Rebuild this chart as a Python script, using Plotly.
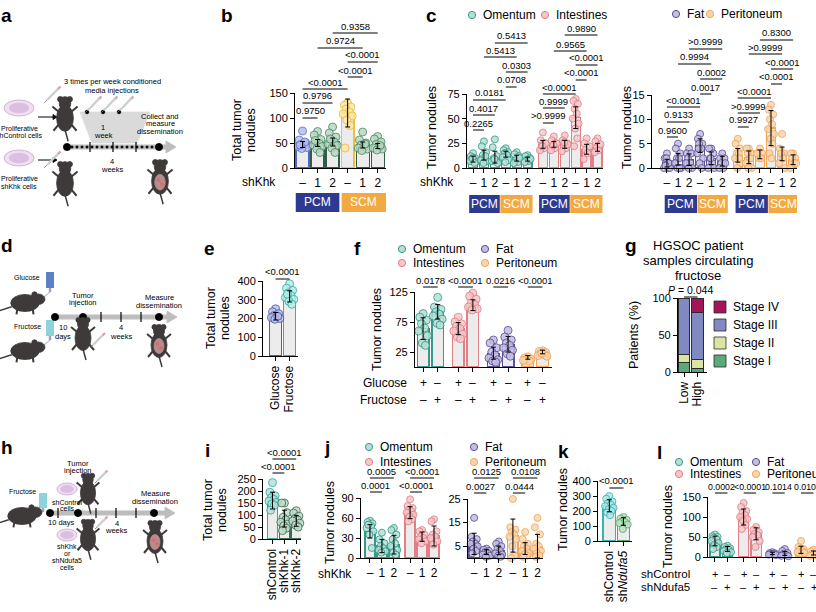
import plotly.graph_objects as go

W, H = 816, 612
FONT = "Liberation Sans, Arial, sans-serif"

# ---------------- data ----------------
shkhk_ticks = ["–", "1", "2", "–", "1", "2"]

# b  total tumor nodules: PCM (ctrl, shKhk-1, shKhk-2), SCM (ctrl, shKhk-1, shKhk-2)
b_x = [0, 1, 2, 3, 4, 5]
b_mean = [47, 50, 52, 110, 46, 44]
b_err = [6, 7, 8, 28, 6, 5]
b_pts = [
    [74, 56, 50, 47, 45, 43, 41, 39, 52, 46],
    [73, 66, 57, 52, 49, 46, 43, 38, 31, 55],
    [82, 70, 62, 56, 52, 48, 45, 40, 31, 58],
    [130, 126, 122, 118, 112, 108, 104, 96, 85, 40],
    [72, 56, 50, 46, 43, 40, 38, 35, 48],
    [63, 58, 52, 47, 43, 40, 38, 36, 45],
]

# c  tumor nodules by site, same six groups for each site
c_x = [0, 1, 2, 3, 4, 5, 6.4, 7.4, 8.4, 9.4, 10.4, 11.4]
c_om_mean = [9, 13, 11, 14, 10, 9]
c_om_err = [3, 5, 6, 3, 3, 2]
c_om_pts = [
    [15, 12, 10, 9, 8, 7, 6, 10, 5],
    [27, 22, 16, 13, 10, 8, 7, 5, 12],
    [29, 21, 12, 10, 8, 7, 5, 9],
    [20, 18, 16, 15, 13, 11, 8, 6],
    [16, 14, 12, 8, 6, 5, 10],
    [13, 12, 10, 8, 7, 6, 9],
]
c_in_mean = [24, 24, 24, 51, 19, 21]
c_in_err = [4, 3, 4, 11, 5, 4]
c_in_pts = [
    [36, 28, 25, 23, 20, 18, 25, 22],
    [32, 28, 25, 22, 20, 18, 25, 23],
    [33, 28, 25, 22, 20, 17, 24, 26],
    [70, 68, 65, 60, 55, 50, 45, 40, 30, 22],
    [30, 25, 20, 18, 15, 9, 22],
    [30, 27, 22, 20, 18, 16, 24],
]
c_fat_mean = [1.0, 1.8, 1.7, 4.6, 2.0, 1.4]
c_fat_err = [0.8, 1.2, 1.2, 1.4, 1.3, 1.0]
c_fat_pts = [
    [3, 2, 1, 1, 0, 0, 0, 2, 1, 0.5],
    [5, 4, 3, 2, 2, 1, 0, 0, 0],
    [4, 3, 3, 2, 1, 1, 0, 0],
    [7, 6, 5, 5, 4, 3, 2, 1, 0, 4],
    [4, 4, 3, 2, 1, 0, 0, 2],
    [3, 2, 2, 1, 0, 0, 1],
]
c_peri_mean = [2.6, 2.2, 2.8, 8.2, 2.9, 1.7]
c_peri_err = [1.4, 1.3, 0.9, 3.6, 1.4, 1.0]
c_peri_pts = [
    [6, 5, 4, 3, 3, 2, 1, 0, 2],
    [4, 4, 3, 3, 2, 1, 0, 0, 2],
    [4, 3, 3, 2, 2, 3],
    [13, 12, 11, 10, 9, 8, 7, 6, 5, 3, 2],
    [7, 4, 3, 3, 2, 1, 0],
    [3, 3, 2, 2, 1, 0, 1],
]

# e  glucose vs fructose
e_x = [0, 1]
e_labels = ["Glucose", "Fructose"]
e_mean = [212, 318]
e_err = [20, 30]
e_pts = [
    [252, 236, 226, 216, 210, 205, 200, 196, 212],
    [385, 362, 350, 336, 322, 312, 302, 292, 276, 330],
]

# f  site x (glucose, fructose)
f_x = [0, 1, 2.4, 3.4, 4.8, 5.8, 7.15, 8.15]
f_glucose = ["+", "–", "+", "–", "+", "–", "+", "–"]
f_fructose = ["–", "+", "–", "+", "–", "+", "–", "+"]
f_mean = [64, 92, 64, 103, 23, 38, 16, 25]
f_err = [18, 12, 10, 9, 10, 13, 3, 3]
f_pts = [
    [89, 83, 78, 72, 65, 60, 52, 40, 36],
    [116, 100, 96, 92, 88, 85, 80, 73, 70],
    [83, 75, 72, 68, 64, 60, 55, 50, 47],
    [123, 118, 113, 107, 104, 100, 97, 95],
    [45, 40, 32, 25, 20, 15, 12, 10, 8],
    [61, 50, 45, 40, 36, 32, 28, 22, 18],
    [17, 15, 13, 12, 10, 11],
    [27, 26, 24, 22, 21, 19, 18, 23],
]

# g  patients (%) by stage, low / high circulating fructose
g_x = [0, 1]
g_labels = ["Low", "High"]
g_stage1 = [13, 5]
g_stage2 = [11, 12]
g_stage3 = [76, 64]
g_stage4 = [0, 19]

# i  shControl / shKhk-1 / shKhk-2
i_x = [0, 1, 2]
i_labels = ["shControl", "shKhk-1", "shKhk-2"]
i_mean = [160, 85, 75]
i_err = [35, 35, 22]
i_pts = [
    [235, 195, 180, 172, 165, 158, 152, 146, 140, 120],
    [150, 150, 110, 90, 80, 70, 62, 55, 45, 35],
    [118, 108, 95, 86, 80, 75, 66, 58, 50],
]

# j  per site, shKhk
j_x = [0, 1, 2, 3.35, 4.35, 5.35]
j_om_in_mean = [40, 18, 20, 68, 32, 33]
j_om_in_err = [10, 10, 14, 9, 7, 15]
j_om_in_pts = [
    [56, 54, 52, 50, 48, 45, 40, 35, 15, 50],
    [38, 28, 22, 18, 15, 12, 10, 8],
    [45, 42, 35, 28, 22, 18, 12, 8, 5],
    [88, 78, 75, 72, 70, 68, 65, 62, 58, 55],
    [42, 40, 35, 32, 30, 28, 25, 22],
    [58, 55, 40, 35, 32, 30, 25, 20],
]
j2_x = [0, 1, 2, 3.15, 4.15, 5.15]
j_fat_peri_mean = [6, 2.5, 3.2, 9.5, 4, 5]
j_fat_peri_err = [4.5, 1, 1.8, 7, 2.5, 5]
j_fat_peri_pts = [
    [17, 9, 8, 7, 6, 6, 5, 4, 3, 2],
    [4, 3.5, 3, 2.5, 2, 1.5, 1, 0.5],
    [7, 6, 5, 4, 3, 2, 1.5, 1, 0.5],
    [25, 13, 12, 11, 10, 9, 8, 5, 1, 0],
    [11, 8, 6, 5, 4, 3, 2, 1.5, 1, 0.5],
    [17, 13, 10, 6, 5, 4, 3, 2, 1, 0.5],
]

# k  shControl vs shNdufa5
k_x = [0, 1]
k_labels = ["shControl", "sh<i>Ndufa5</i>"]
k_mean = [235, 130]
k_err = [40, 25]
k_pts = [
    [300, 282, 264, 252, 242, 232, 222, 212, 200, 190, 172],
    [160, 150, 142, 132, 126, 120, 110, 80],
]

# l  per site, shControl vs shNdufa5
l_x = [0, 1, 2.3, 3.3, 4.6, 5.6, 6.9, 7.9]
l_ctrl = ["+", "–", "+", "–", "+", "–", "+", "–"]
l_nd = ["–", "+", "–", "+", "–", "+", "–", "+"]
l_mean = [40, 20, 100, 58, 9, 9, 18, 10]
l_err = [12, 6, 20, 15, 3, 5, 9, 5]
l_pts = [
    [56, 52, 50, 48, 45, 40, 35, 30, 25, 20],
    [28, 25, 22, 20, 18, 15, 12, 10],
    [135, 125, 115, 110, 105, 100, 95, 90, 80, 70],
    [75, 68, 62, 58, 55, 50, 40, 25],
    [12, 10, 9, 8, 7, 6, 5],
    [20, 15, 10, 8, 5, 3, 2],
    [40, 25, 20, 18, 15, 12, 10],
    [18, 14, 10, 8, 5, 3],
]

# ---------------- colours ----------------
BARFILL = "#ececec"
PCM = "#2e3a8f"
SCM = "#f2a941"
OM = ("#35998a", "#b4e0d5")
IN = ("#e27f86", "#f6c6c9")
FAT = ("#5a5094", "#c2bde2")
PERI = ("#f2a457", "#f9d6b0")
OFF = [0, -0.22, 0.22, -0.11, 0.11, -0.3, 0.3, -0.05, 0.16, -0.16, 0.05, 0.27]

fig = go.Figure()
shp = []
ann = []


def px(x):
    return x / W


def py(y):
    return 1 - y / H


def sfx(n):
    return "" if n == 1 else str(n)


def text(x, y, s, size=10, anchor="center", color="black", angle=0, bold=False, ya="middle"):
    if bold:
        s = "<b>" + s + "</b>"
    ann.append(dict(x=px(x), y=py(y), xref="paper", yref="paper", text=s, showarrow=False,
                    font=dict(size=size, color=color, family=FONT), xanchor=anchor, yanchor=ya,
                    textangle=angle))


def add_axes(n, box, xr, yr, yt, xt=None, xl=None, xangle=0, showxl=True):
    x0, x1, yt0, yb = box
    base = dict(showline=True, linecolor="black", linewidth=1.1, ticks="outside", ticklen=4,
                tickwidth=1.1, tickcolor="black", showgrid=False, zeroline=False, fixedrange=True,
                automargin=False, tickfont=dict(size=11, family=FONT, color="black"))
    fig.layout["xaxis" + sfx(n)] = dict(base, domain=[px(x0), px(x1)], range=xr, anchor="y" + sfx(n),
                                       tickvals=xt, ticktext=xl, showticklabels=showxl,
                                       tickangle=xangle, tickfont=dict(size=12, family=FONT, color="black"))
    fig.layout["yaxis" + sfx(n)] = dict(base, domain=[py(yb), py(yt0)], range=yr, anchor="x" + sfx(n),
                                       tickvals=yt)


def bars(n, xs, means, edges, width):
    fig.add_trace(go.Bar(x=xs, y=means, width=width, xaxis="x" + sfx(n), yaxis="y" + sfx(n),
                         marker=dict(color=BARFILL, line=dict(color=edges, width=1.3)),
                         showlegend=False, hoverinfo="skip"))


def dots(n, xs, pts_list, edges, fills, size=7, spread=1.0):
    for x, pts, e, f in zip(xs, pts_list, edges, fills):
        xx = [x + OFF[k % len(OFF)] * spread for k in range(len(pts))]
        fig.add_trace(go.Scatter(x=xx, y=pts, mode="markers", xaxis="x" + sfx(n), yaxis="y" + sfx(n),
                                 marker=dict(size=size, color=f, opacity=0.85, line=dict(color=e, width=1)),
                                 cliponaxis=False, showlegend=False, hoverinfo="skip"))


def errs(n, xs, means, err):
    fig.add_trace(go.Scatter(x=xs, y=means, mode="markers", xaxis="x" + sfx(n), yaxis="y" + sfx(n),
                             marker=dict(size=1, color="rgba(0,0,0,0)"),
                             error_y=dict(type="data", array=err, color="black", thickness=1, width=2.5),
                             cliponaxis=False, showlegend=False, hoverinfo="skip"))


def bracket(n, a, b, ly, label, size=9.5):
    shp.append(dict(type="line", xref="x" + sfx(n), yref="paper", x0=a, x1=b, y0=py(ly), y1=py(ly),
                    line=dict(color="black", width=1)))
    ann.append(dict(x=(a + b) / 2, xref="x" + sfx(n), y=py(ly - 0.5), yref="paper", text=label,
                    showarrow=False, xanchor="center", yanchor="bottom", borderpad=0,
                    font=dict(size=size, family=FONT, color="black")))


def box(n, a, b, y0, y1, color, label):
    shp.append(dict(type="rect", xref="x" + sfx(n), yref="paper", x0=a, x1=b, y0=py(y1), y1=py(y0),
                    fillcolor=color, line=dict(width=0)))
    ann.append(dict(x=(a + b) / 2, xref="x" + sfx(n), y=py((y0 + y1) / 2), yref="paper", text=label,
                    showarrow=False, xanchor="center", yanchor="middle",
                    font=dict(size=12, family=FONT, color="white")))


def rowlab(n, xs, labels, y, size=12):
    for x, s in zip(xs, labels):
        ann.append(dict(x=x, xref="x" + sfx(n), y=py(y), yref="paper", text=s, showarrow=False,
                        xanchor="center", yanchor="middle",
                        font=dict(size=size, family=FONT, color="black")))


def ldot(cx, cy, col, r=3.6):
    shp.append(dict(type="circle", xref="paper", yref="paper", x0=px(cx - r), x1=px(cx + r),
                    y0=py(cy + r), y1=py(cy - r), fillcolor=col[1], line=dict(color=col[0], width=1)))


# schematic helpers
def ellipse(cx, cy, rx, ry, fill, line=None, lw=0.8):
    shp.append(dict(type="circle", xref="paper", yref="paper", x0=px(cx - rx), x1=px(cx + rx),
                    y0=py(cy + ry), y1=py(cy - ry), fillcolor=fill,
                    line=dict(color=line or fill, width=lw)))


def rect(x0, y0, x1, y1, fill, line=None, lw=0):
    shp.append(dict(type="rect", xref="paper", yref="paper", x0=px(x0), x1=px(x1), y0=py(y1),
                    y1=py(y0), fillcolor=fill, line=dict(color=line or fill, width=lw)))


def seg(x0, y0, x1, y1, color="black", w=1):
    shp.append(dict(type="line", xref="paper", yref="paper", x0=px(x0), x1=px(x1), y0=py(y0),
                    y1=py(y1), line=dict(color=color, width=w)))


def poly(pts, fill, line=None):
    d = "M " + " L ".join("%f,%f" % (px(x), py(y)) for x, y in pts) + " Z"
    shp.append(dict(type="path", xref="paper", yref="paper", path=d, fillcolor=fill,
                    line=dict(color=line or fill, width=0.8)))


MOUSE = "#3f3a3a"


def mouse_top(cx, cy, s=1.0, opened=False):
    seg(cx, cy + 14 * s, cx + 3 * s, cy + 25 * s, MOUSE, 1.5)
    for d in (-1, 1):
        seg(cx + d * 6 * s, cy - 3 * s, cx + d * 12 * s, cy - 8 * s, MOUSE, 2)
        seg(cx + d * 6 * s, cy + 9 * s, cx + d * 11 * s, cy + 15 * s, MOUSE, 2)
        ellipse(cx + d * 4.5 * s, cy - 15 * s, 2.6 * s, 2.6 * s, MOUSE)
    ellipse(cx, cy + 3 * s, 8 * s, 12.5 * s, MOUSE)
    ellipse(cx, cy - 11 * s, 5.5 * s, 6.5 * s, MOUSE)
    if opened:
        ellipse(cx, cy + 4 * s, 5 * s, 7.5 * s, "#b98c8c")
        ellipse(cx - 1.5 * s, cy + 2 * s, 1.6 * s, 1.6 * s, "#d66b78")
        ellipse(cx + 2 * s, cy + 6 * s, 1.6 * s, 1.6 * s, "#d66b78")


def mouse_side(cx, cy, s=1.0):
    seg(cx - 14 * s, cy + 4 * s, cx - 30 * s, cy + 9 * s, MOUSE, 1.5)
    seg(cx - 8 * s, cy + 6 * s, cx - 9 * s, cy + 12 * s, MOUSE, 2)
    seg(cx + 8 * s, cy + 6 * s, cx + 9 * s, cy + 12 * s, MOUSE, 2)
    ellipse(cx, cy, 15 * s, 9 * s, MOUSE)
    ellipse(cx + 14 * s, cy - 4 * s, 7 * s, 5.5 * s, MOUSE)
    ellipse(cx + 10 * s, cy - 9 * s, 2.8 * s, 2.8 * s, MOUSE)


def dish(cx, cy, rx=15, ry=8):
    ellipse(cx, cy, rx, ry, "#efdff0", "#c6a6cc", 0.8)
    ellipse(cx, cy, rx * 0.65, ry * 0.6, "#dbbfe0", "#dbbfe0")


def bottle(cx, y0, y1, color):
    rect(cx - 4, y0, cx + 4, y1, color)
    rect(cx - 1.2, y1, cx + 1.2, y1 + 4, "#9aa3b5")


def timeline(x0, x1, y):
    rect(x0, y - 2.4, x1, y + 2.4, "#bdbdbd")
    poly([(x1, y - 6), (x1 + 10, y), (x1, y + 6)], "#bdbdbd")


def syringe(x, y, s=1.0):
    seg(x, y, x + 12 * s, y - 12 * s, "#cfcfcf", 2.4)
    seg(x + 12 * s, y - 12 * s, x + 15 * s, y - 15 * s, "#d9a3b3", 2.4)
    seg(x - 3 * s, y + 3 * s, x, y, "#777777", 0.8)


# ---------------- axes ----------------
add_axes(1, (295, 386, 93, 168), [-0.5, 5.55], [0, 150], [0, 50, 100, 150], b_x, shkhk_ticks)
add_axes(2, (467, 603, 94, 168), [-0.55, 11.9], [0, 75], [0, 25, 50, 75], c_x, shkhk_ticks * 2)
add_axes(3, (652, 797, 95, 168), [-1.35, 11.75], [0, 15], [0, 5, 10, 15], c_x, shkhk_ticks * 2)
add_axes(4, (263, 298, 281, 356), [-0.9, 1.6], [0, 400], [0, 100, 200, 300, 400], e_x, e_labels, -90)
add_axes(5, (415, 552, 292, 367), [-0.55, 8.8], [0, 125], [25, 75, 125], f_x, None, 0, False)
add_axes(6, (678, 707, 298, 372), [-0.45, 1.7], [0, 100], [0, 50, 100], g_x, g_labels, -90)
add_axes(7, (263, 301, 479, 539), [-0.8, 2.4], [0, 250], [0, 50, 100, 150, 200, 250], i_x, i_labels, -90)
add_axes(8, (361, 440, 498, 558), [-0.75, 5.85], [0, 90], [0, 30, 60, 90], j_x, shkhk_ticks)
add_axes(9, (468, 543, 499, 558), [-0.5, 5.6], [0, 25], [5, 15, 25], j2_x, shkhk_ticks)
add_axes(10, (598, 632, 481, 541), [-0.8, 1.6], [0, 400], [0, 100, 200, 300, 400], k_x, k_labels, -90)
add_axes(11, (708, 816, 497, 557), [-0.56, 8.1], [0, 150], [0, 50, 100, 150], l_x, None, 0, False)

# ---------------- panel b ----------------
b_edge = ["#5566c0", "#2f5d48", "#2f5d48", "#f0c03a", "#2f5d48", "#2f5d48"]
b_pe = ["#6070c8", "#4e8a66", "#4e8a66", "#eebd3c", "#4e8a66", "#4e8a66"]
b_pf = ["#b5bfea", "#b8d8c2", "#b8d8c2", "#fce8ad", "#b8d8c2", "#b8d8c2"]
bars(1, b_x, b_mean, b_edge, 0.86)
dots(1, b_x, b_pts, b_pe, b_pf, size=8, spread=1.0)
errs(1, b_x, b_mean, b_err)
for a, b_, ly, lab in [(0, 1, 118, "0.9750"), (0, 2, 103, "0.9796"), (0, 3, 89, "&lt;0.0001"),
                       (3, 4, 77, "&lt;0.0001"), (3, 5, 62, "&lt;0.0001"), (1, 4, 48, "0.9724"),
                       (2, 5, 33, "0.9358")]:
    bracket(1, a, b_, ly, lab)
box(1, -0.45, 2.45, 193, 212, PCM, "PCM")
box(1, 2.6, 5.55, 193, 212, SCM, "SCM")
text(278, 182, "shKhk", 12, "right")
text(237, 130, "Total tumor", 12.5, angle=-90)
text(251, 130, "nodules", 12.5, angle=-90)

# ---------------- panel c ----------------
om_in_e = [OM[0]] * 6 + [IN[0]] * 6
om_in_f = [OM[1]] * 6 + [IN[1]] * 6
bars(2, c_x, c_om_mean + c_in_mean, om_in_e, 0.82)
dots(2, c_x, c_om_pts + c_in_pts, om_in_e, om_in_f, size=7, spread=0.9)
errs(2, c_x, c_om_mean + c_in_mean, c_om_err + c_in_err)
fp_e = [FAT[0]] * 6 + [PERI[0]] * 6
fp_f = [FAT[1]] * 6 + [PERI[1]] * 6
bars(3, c_x, c_fat_mean + c_peri_mean, fp_e, 0.82)
dots(3, c_x, c_fat_pts + c_peri_pts, fp_e, fp_f, size=7, spread=0.9)
errs(3, c_x, c_fat_mean + c_peri_mean, c_fat_err + c_peri_err)

for a, b_, ly, lab in [(0, 1, 130, "0.2265"), (0, 2, 115, "0.4017"), (0, 3, 100, "0.0181"),
                       (3, 4, 87, "0.0708"), (3, 5, 72, "0.0303"), (1, 4, 57, "0.5413"),
                       (2, 5, 43, "0.5413")]:
    bracket(2, c_x[a], c_x[b_], ly, lab)
for a, b_, ly, lab in [(0, 1, 123, "&gt;0.9999"), (0, 2, 108, "0.9999"), (0, 3, 94, "&lt;0.0001"),
                       (3, 4, 80, "&lt;0.0001"), (3, 5, 65, "&lt;0.0001"), (1, 4, 51, "0.9565"),
                       (2, 5, 35, "0.9890")]:
    bracket(2, c_x[a + 6], c_x[b_ + 6], ly, lab)
for a, b_, ly, lab in [(0, 1, 137, "0.9600"), (0, 2, 122, "0.9133"), (0, 3, 107, "&lt;0.0001"),
                       (3, 4, 94, "0.0017"), (3, 5, 79, "0.0002"), (1, 4, 64, "0.9994"),
                       (2, 5, 49, "&gt;0.9999")]:
    bracket(3, c_x[a], c_x[b_], ly, lab)
for a, b_, ly, lab in [(0, 1, 127, "0.9927"), (0, 2, 113, "&gt;0.9999"), (0, 3, 98, "&lt;0.0001"),
                       (3, 4, 84, "&lt;0.0001"), (3, 5, 69, "&lt;0.0001"), (1, 4, 54, "&gt;0.9999"),
                       (2, 5, 40, "0.8300")]:
    bracket(3, c_x[a + 6], c_x[b_ + 6], ly, lab)
for g0 in (0, 6.4):
    box(2, g0 - 0.35, g0 + 2.45, 195, 213, PCM, "PCM")
    box(2, g0 + 2.5, g0 + 5.45, 195, 213, SCM, "SCM")
    box(3, g0 - 0.2, g0 + 2.72, 195, 213, PCM, "PCM")
    box(3, g0 + 2.77, g0 + 5.5, 195, 213, SCM, "SCM")
text(456, 182, "shKhk", 12, "right")
text(432, 128, "Tumor nodules", 12.5, angle=-90)
text(627, 128, "Tumor nodules", 12.5, angle=-90)
ldot(472, 15, OM)
text(481, 15, "Omentum", 12, "left")
ldot(545, 15, IN)
text(554, 15, "Intestines", 12, "left")
ldot(676, 14, FAT)
text(685, 14, "Fat", 12, "left")
ldot(710, 14, PERI)
text(719, 14, "Peritoneum", 12, "left")

# ---------------- panel e ----------------
e_e = ["#4f5ca8", "#2fb3a8"]
e_f = ["#b9bfe6", "#bdeae4"]
bars(4, e_x, e_mean, e_e, 0.88)
dots(4, e_x, e_pts, e_e, e_f, size=8, spread=1.0)
errs(4, e_x, e_mean, e_err)
bracket(4, 0, 1, 279, "&lt;0.0001")
text(211, 318, "Total tumor", 12.5, angle=-90)
text(225, 318, "nodules", 12.5, angle=-90)

# ---------------- panel f ----------------
f_e = [OM[0], OM[0], IN[0], IN[0], FAT[0], FAT[0], PERI[0], PERI[0]]
f_f = [OM[1], OM[1], IN[1], IN[1], FAT[1], FAT[1], PERI[1], PERI[1]]
bars(5, f_x, f_mean, f_e, 0.8)
dots(5, f_x, f_pts, f_e, f_f, size=8, spread=1.0)
errs(5, f_x, f_mean, f_err)
for k, lab in enumerate(["0.0178", "&lt;0.0001", "0.0216", "&lt;0.0001"]):
    bracket(5, f_x[2 * k], f_x[2 * k + 1], 287, lab)
rowlab(5, f_x, f_glucose, 383)
rowlab(5, f_x, f_fructose, 400)
text(409, 383, "Glucose", 12, "right")
text(409, 400, "Fructose", 12, "right")
text(377, 330, "Tumor nodules", 12.5, angle=-90)
ldot(402, 249, OM)
text(411, 249, "Omentum", 12, "left")
ldot(485, 249, FAT)
text(494, 249, "Fat", 12, "left")
ldot(402, 263, IN)
text(411, 263, "Intestines", 12, "left")
ldot(485, 263, PERI)
text(494, 263, "Peritoneum", 12, "left")

# ---------------- panel g ----------------
stages = [("Stage I", g_stage1, "#5aa97a"), ("Stage II", g_stage2, "#dbe5a2"),
          ("Stage III", g_stage3, "#8189c2"), ("Stage IV", g_stage4, "#a3145b")]
for name, vals, col in stages:
    fig.add_trace(go.Bar(x=g_x, y=vals, width=0.86, xaxis="x6", yaxis="y6", name=name,
                         marker=dict(color=col, line=dict(color="#2b2b2b", width=1)),
                         showlegend=False, hoverinfo="skip"))
for k, (name, vals, col) in enumerate(reversed(stages)):
    yy = 307 + 18 * k
    rect(714, yy - 6, 726, yy + 6, col, "#2b2b2b", 0.8)
    text(731, yy, name, 12, "left")
bracket(6, 0, 1, 297, "<i>P</i> = 0.044", 10.5)
text(698, 245, "HGSOC patient", 13)
text(698, 260, "samples circulating", 13)
text(698, 275, "fructose", 13)
text(634, 335, "Patients (%)", 12.5, angle=-90)

# ---------------- panel i ----------------
i_e = ["#34a89c", "#3c6e55", "#3c6e55"]
i_f = ["#b3e2dc", "#c1dcc9", "#c1dcc9"]
bars(7, i_x, i_mean, i_e, 0.86)
dots(7, i_x, i_pts, i_e, i_f, size=8, spread=1.0)
errs(7, i_x, i_mean, i_err)
bracket(7, 0, 1, 473, "&lt;0.0001")
bracket(7, 0, 2, 459, "&lt;0.0001")
text(208, 510, "Total tumor", 12.5, angle=-90)
text(222, 510, "nodules", 12.5, angle=-90)

# ---------------- panel j ----------------
j_e = [OM[0]] * 3 + [IN[0]] * 3
j_f = [OM[1]] * 3 + [IN[1]] * 3
bars(8, j_x, j_om_in_mean, j_e, 0.84)
dots(8, j_x, j_om_in_pts, j_e, j_f, size=7, spread=0.95)
errs(8, j_x, j_om_in_mean, j_om_in_err)
j2_e = [FAT[0]] * 3 + [PERI[0]] * 3
j2_f = [FAT[1]] * 3 + [PERI[1]] * 3
bars(9, j2_x, j_fat_peri_mean, j2_e, 0.84)
dots(9, j2_x, j_fat_peri_pts, j2_e, j2_f, size=7, spread=0.95)
errs(9, j2_x, j_fat_peri_mean, j_fat_peri_err)
bracket(8, j_x[0], j_x[1], 492, "0.0001")
bracket(8, j_x[0], j_x[2], 478, "0.0005")
bracket(8, j_x[3], j_x[4], 492, "&lt;0.0001")
bracket(8, j_x[3], j_x[5], 478, "&lt;0.0001")
bracket(9, j2_x[0], j2_x[1], 493, "0.0027")
bracket(9, j2_x[0], j2_x[2], 478, "0.0125")
bracket(9, j2_x[3], j2_x[4], 493, "0.0444")
bracket(9, j2_x[3], j2_x[5], 478, "0.0108")
text(354, 574, "shKhk", 12, "right")
text(330, 523, "Tumor nodules", 12.5, angle=-90)
ldot(369, 447, OM)
text(378, 447, "Omentum", 12, "left")
ldot(369, 462, IN)
text(378, 462, "Intestines", 12, "left")
ldot(474, 447, FAT)
text(483, 447, "Fat", 12, "left")
ldot(474, 462, PERI)
text(483, 462, "Peritoneum", 12, "left")

# ---------------- panel k ----------------
k_e = ["#35b3b8", "#58a86a"]
k_f = ["#b4e7e7", "#c0e2c5"]
bars(10, k_x, k_mean, k_e, 0.88)
dots(10, k_x, k_pts, k_e, k_f, size=7, spread=1.0)
errs(10, k_x, k_mean, k_err)
bracket(10, 0, 1, 488, "&lt;0.0001")
text(563, 510, "Tumor nodules", 12.5, angle=-90)

# ---------------- panel l ----------------
l_e = [OM[0], OM[0], IN[0], IN[0], FAT[0], FAT[0], PERI[0], PERI[0]]
l_f = [OM[1], OM[1], IN[1], IN[1], FAT[1], FAT[1], PERI[1], PERI[1]]
bars(11, l_x, l_mean, l_e, 0.82)
dots(11, l_x, l_pts, l_e, l_f, size=7, spread=0.95)
errs(11, l_x, l_mean, l_err)
for k, lab in enumerate(["0.0002", "&lt;0.0001", "0.1014", "0.0108"]):
    bracket(11, l_x[2 * k], l_x[2 * k + 1], 493, lab, 8.8)
rowlab(11, l_x, l_ctrl, 574, 11)
rowlab(11, l_x, l_nd, 587, 11)
text(692, 574, "shControl", 11.5, "right")
text(692, 587, "shNdufa5", 11.5, "right")
text(668, 527, "Tumor nodules", 12.5, angle=-90)
ldot(679, 462, OM)
text(688, 462, "Omentum", 12, "left")
ldot(756, 462, FAT)
text(765, 462, "Fat", 12, "left")
ldot(679, 474, IN)
text(688, 474, "Intestines", 12, "left")
ldot(756, 474, PERI)
text(765, 474, "Peritoneum", 12, "left")

# ---------------- schematics a, d, h ----------------
# a
dish(19, 108)
dish(19, 158)
text(19, 128, "Proliferative", 7)
text(19, 135, "shControl cells", 7)
text(19, 178, "Proliferative", 7)
text(19, 186, "shKhk cells", 7)
seg(38, 117, 53, 117, "black", 1)
poly([(53, 114.5), (57, 117), (53, 119.5)], "black")
seg(38, 160, 53, 160, "black", 1)
poly([(53, 157.5), (57, 160), (53, 162.5)], "black")
syringe(47, 100, 0.9)
syringe(47, 165, 0.9)
mouse_top(65, 115, 1.05)
mouse_top(65, 180, 1.05)
poly([(80, 112), (150, 112), (137, 143), (92, 143)], "#dadada")
for xd in (87, 103, 119):
    ellipse(xd, 112, 1.8, 1.8, "black")
    syringe(xd + 1, 110, 0.9)
text(112, 82, "3 times per week conditioned", 7.5)
text(112, 90, "media injections", 7.5)
text(103, 127, "1", 7.5)
text(103, 135, "week", 7.5)
timeline(67, 166, 147)
for xd in range(72, 158, 5):
    ellipse(xd, 147, 1.1, 1.1, "black")
for xd in (90, 113, 136):
    seg(xd, 142, xd, 152, "black", 1.2)
ellipse(67, 147, 3.6, 3.6, "black")
ellipse(159, 147, 3.6, 3.6, "black")
text(112, 162, "4", 7.5)
text(112, 169, "weeks", 7.5)
text(160, 117, "Collect and", 7.5)
text(160, 124, "measure", 7.5)
text(160, 131, "dissemination", 7.5)
mouse_top(160, 178, 1.05, opened=True)

# d
text(27, 278, "Glucose", 7)
bottle(50, 272, 288, "#5b7fc0")
seg(50, 292, 44, 297, "#9aa3b5", 1)
mouse_side(25, 303, 0.95)
text(27, 326, "Fructose", 7)
bottle(50, 320, 336, "#8fd3da")
seg(50, 340, 44, 345, "#9aa3b5", 1)
mouse_side(25, 351, 0.95)
timeline(55, 167, 317)
for xd in (101, 121, 141):
    seg(xd, 312, xd, 322, "black", 1.2)
for xd in (55, 83, 159):
    ellipse(xd, 317, 3.6, 3.6, "black")
text(63, 327, "10", 7.5)
text(63, 336, "days", 7.5)
text(83, 295, "Tumor", 7.5)
text(83, 302, "injection", 7.5)
mouse_top(83, 335, 1.0)
syringe(93, 345, 0.8)
text(121, 327, "4", 7.5)
text(121, 336, "weeks", 7.5)
text(159, 297, "Measure", 7.5)
text(159, 305, "dissemination", 7.5)
mouse_top(159, 342, 1.0, opened=True)

# h
text(22, 491, "Fructose", 7)
bottle(43, 493, 508, "#8fd3da")
mouse_side(22, 516, 0.95)
timeline(50, 165, 513)
for xd in (58, 96, 116, 136):
    seg(xd, 508, xd, 518, "black", 1.2)
for xd in (50, 78, 154):
    ellipse(xd, 513, 3.6, 3.6, "black")
text(62, 522, "10 days", 7.5)
text(78, 463, "Tumor", 7.5)
text(78, 470, "injection", 7.5)
dish(67, 489, 10, 6)
text(67, 502, "shControl", 7)
text(67, 508, "cells", 7)
mouse_top(88, 490, 0.95)
syringe(97, 481, 0.7)
dish(67, 535, 10, 6)
text(67, 546, "shKhk", 7)
text(67, 553, "or", 7)
text(67, 560, "shNdufa5", 7)
text(67, 567, "cells", 7)
mouse_top(88, 536, 0.95)
syringe(97, 527, 0.7)
text(117, 523, "4", 7.5)
text(117, 530, "weeks", 7.5)
text(155, 493, "Measure", 7.5)
text(155, 501, "dissemination", 7.5)
mouse_top(155, 538, 1.0, opened=True)

# panel letters
for lab, x, y in [("a", -1, 15), ("b", 227, 15), ("c", 431, 15), ("d", -1, 245), ("e", 210, 248),
                  ("f", 357, 248), ("g", 631, 245), ("h", -1, 448), ("i", 207, 450),
                  ("j", 327, 447), ("k", 563, 451), ("l", 659, 452)]:
    text(x, y, lab, 19, "left" if x < 0 else "center", bold=True)

fig.update_layout(template="none", width=W, height=H, margin=dict(l=0, r=0, t=0, b=0, pad=0),
                  barmode="stack", plot_bgcolor="white", paper_bgcolor="white", showlegend=False,
                  font=dict(family=FONT, color="black"), shapes=shp, annotations=ann)

# the browser's default 8px body margin would shift the whole page
fig.write_html("out.html", config={"displayModeBar": False},
               post_script="document.body.style.margin='0';document.body.style.overflow='hidden';")
